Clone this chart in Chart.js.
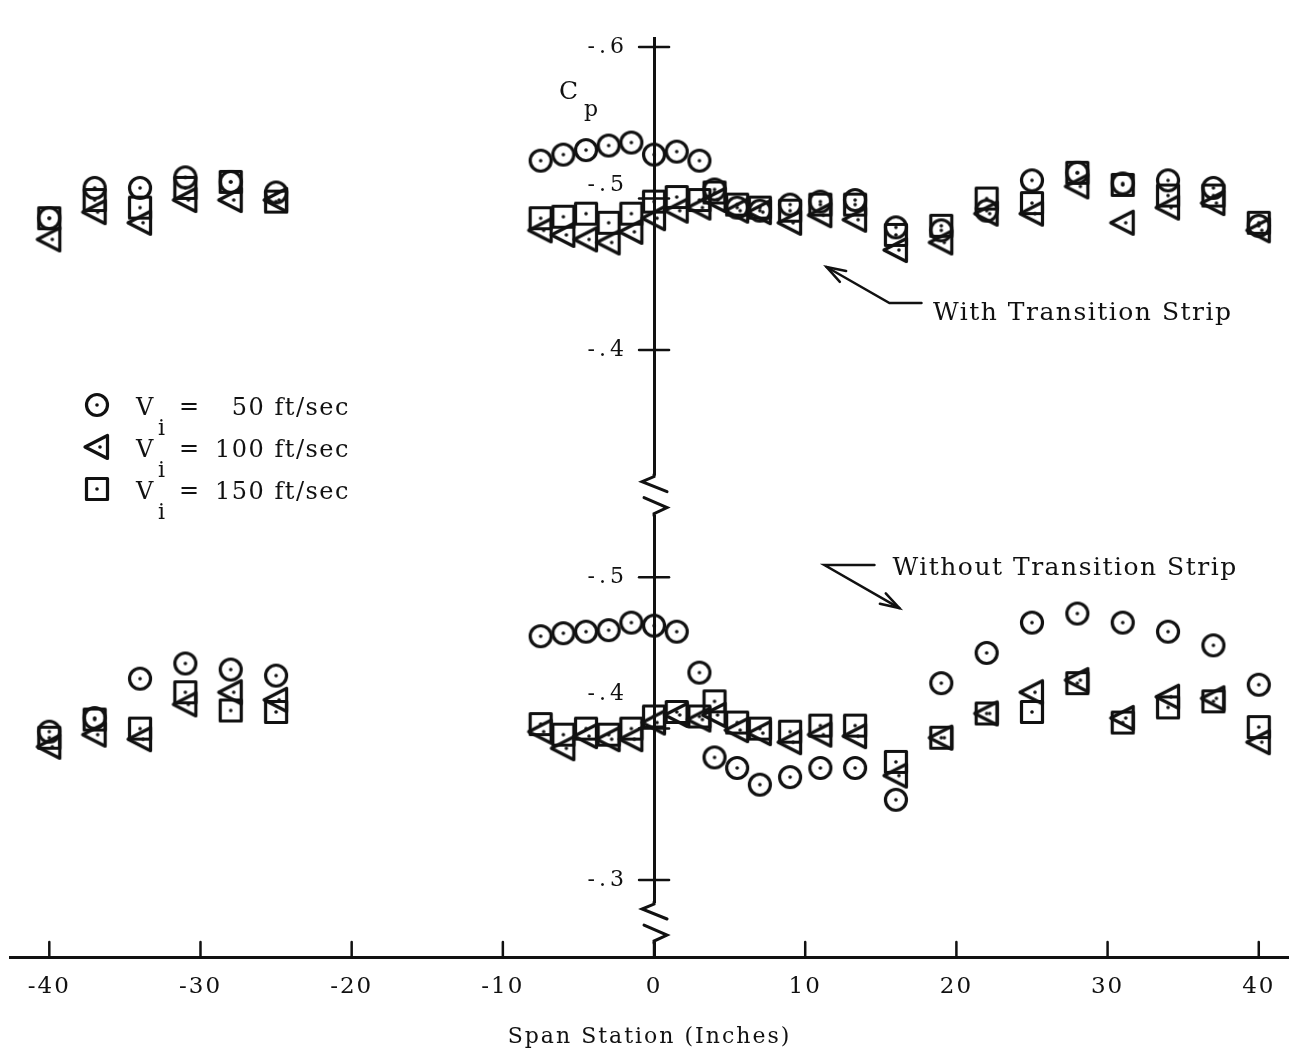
<!DOCTYPE html>
<html>
<head>
<meta charset="utf-8">
<script src="https://cdn.jsdelivr.net/npm/chart.js@4.4.1/dist/chart.umd.min.js"></script>
<style>
  html, body { margin: 0; padding: 0; background: #fff; }
  #wrap { width: 1289px; height: 1055px; }
</style>
</head>
<body>
<div id="wrap"><canvas id="cpChart" width="1289" height="1055"></canvas></div>
<script>
// span stations (inches)
const stations = [-40, -37, -34, -31, -28, -25,
  -7.5, -6, -4.5, -3, -1.5, 0, 1.5, 3, 4, 5.5, 7, 9, 11, 13.3,
  16, 19, 22, 25, 28, 31, 34, 37, 40];

// Cp with transition strip (upper plot)
const withStrip50 = [-0.487, -0.507, -0.507, -0.514, -0.511, -0.504,
  -0.525, -0.529, -0.532, -0.535, -0.537, -0.529, -0.531, -0.525, -0.506, -0.494, -0.492, -0.496, -0.498, -0.499,
  -0.481, -0.479, -0.492, -0.512, -0.517, -0.510, -0.512, -0.507, -0.482];
const withStrip100 = [-0.473, -0.491, -0.484, -0.499, -0.499, -0.499,
  -0.479, -0.476, -0.473, -0.471, -0.478, -0.487, -0.492, -0.494, -0.499, -0.492, -0.491, -0.484, -0.489, -0.486,
  -0.466, -0.471, -0.490, -0.490, -0.508, -0.484, -0.494, -0.497, -0.479];
const withStrip150 = [-0.487, -0.499, -0.494, -0.507, -0.511, -0.498,
  -0.487, -0.488, -0.490, -0.484, -0.490, -0.498, -0.501, -0.499, -0.504, -0.496, -0.494, -0.492, -0.496, -0.496,
  -0.476, -0.482, -0.500, -0.497, -0.517, -0.509, -0.502, -0.502, -0.484];

// Cp without transition strip (lower plot)
const withoutStrip50 = [-0.398, -0.407, -0.433, -0.443, -0.439, -0.435,
  -0.461, -0.463, -0.464, -0.465, -0.470, -0.468, -0.464, -0.437, -0.381, -0.374, -0.363, -0.368, -0.374, -0.374,
  -0.353, -0.430, -0.450, -0.470, -0.476, -0.470, -0.464, -0.455, -0.429];
const withoutStrip100 = [-0.388, -0.396, -0.393, -0.416, -0.424, -0.419,
  -0.398, -0.387, -0.395, -0.393, -0.393, -0.404, -0.409, -0.406, -0.409, -0.399, -0.397, -0.391, -0.396, -0.395,
  -0.369, -0.394, -0.410, -0.424, -0.432, -0.407, -0.421, -0.420, -0.391];
const withoutStrip150 = [-0.394, -0.406, -0.400, -0.424, -0.412, -0.411,
  -0.403, -0.396, -0.400, -0.396, -0.400, -0.408, -0.411, -0.408, -0.418, -0.404, -0.400, -0.398, -0.402, -0.402,
  -0.378, -0.394, -0.410, -0.411, -0.430, -0.404, -0.414, -0.418, -0.401];

// axis ticks
const xTicks = [-40, -30, -20, -10, 0, 10, 20, 30, 40];
const upperTicks = [-0.6, -0.5, -0.4];
const lowerTicks = [-0.5, -0.4, -0.3];
const upperTickLabels = ['-.6', '-.5', '-.4'];
const lowerTickLabels = ['-.5', '-.4', '-.3'];
const legendLabels = ['50 ft/sec', '100 ft/sec', '150 ft/sec'];

// the upper plot sits on the same axis, shifted up past the break
const UPPER_SHIFT = -0.25;
const yTickValues = upperTicks.map(v => v + UPPER_SHIFT).concat(lowerTicks);
const yTickLabels = upperTickLabels.concat(lowerTickLabels);
const yLabelLift = [0, 13, 0, 0, 34, 0]; // labels moved off the markers
const breakValues = [-0.5545, -0.2723];

const SERIF = '"DejaVu Serif", "Liberation Serif", serif';
const INK = '#111';

function makeMarker(kind) {
  const s = 32;
  const c = document.createElement('canvas');
  c.width = s; c.height = s;
  const g = c.getContext('2d');
  g.strokeStyle = INK; g.lineWidth = 3.2; g.lineJoin = 'round';
  g.beginPath();
  if (kind === 'circle') g.arc(16, 16, 10.5, 0, Math.PI * 2);
  else if (kind === 'square') g.rect(5.5, 5.5, 21, 21);
  else { g.moveTo(4, 16); g.lineTo(26.5, 4.5); g.lineTo(26.5, 27.5); g.closePath(); }
  g.stroke();
  g.fillStyle = INK;
  g.beginPath();
  g.arc(kind === 'triangle' ? 19 : 16, 16, 1.8, 0, Math.PI * 2);
  g.fill();
  return c;
}
const markers = [makeMarker('circle'), makeMarker('triangle'), makeMarker('square')];

function series(values, shift) {
  return stations.map((s, i) => ({ x: s, y: values[i] + shift }));
}
function ds(label, values, shift, marker) {
  return {
    label: label,
    data: series(values, shift),
    pointStyle: marker,
    pointRadius: 11,
    pointHoverRadius: 11,
    showLine: false
  };
}

const datasets = [
  ds('With strip, Vi = 50 ft/sec', withStrip50, UPPER_SHIFT, markers[0]),
  ds('With strip, Vi = 100 ft/sec', withStrip100, UPPER_SHIFT, markers[1]),
  ds('With strip, Vi = 150 ft/sec', withStrip150, UPPER_SHIFT, markers[2]),
  ds('Without strip, Vi = 50 ft/sec', withoutStrip50, 0, markers[0]),
  ds('Without strip, Vi = 100 ft/sec', withoutStrip100, 0, markers[1]),
  ds('Without strip, Vi = 150 ft/sec', withoutStrip150, 0, markers[2])
];

function line(ctx, pts) {
  ctx.beginPath();
  ctx.moveTo(pts[0][0], pts[0][1]);
  for (let i = 1; i < pts.length; i++) ctx.lineTo(pts[i][0], pts[i][1]);
  ctx.stroke();
}
function arrowHead(ctx, from, tip, len, spread) {
  const a = Math.atan2(tip[1] - from[1], tip[0] - from[0]);
  line(ctx, [[tip[0] - len * Math.cos(a - spread), tip[1] - len * Math.sin(a - spread)], tip,
             [tip[0] - len * Math.cos(a + spread), tip[1] - len * Math.sin(a + spread)]]);
}

const decor = {
  id: 'decor',
  beforeDraw(chart) {
    // typewriter-like spacing for the axis numbers and title
    chart.ctx.letterSpacing = '2px';
  },
  afterDraw(chart) {
    const ctx = chart.ctx;
    const xs = chart.scales.x, ys = chart.scales.y;
    const area = chart.chartArea;
    const x0 = xs.getPixelForValue(0);
    const P = (x, v) => [xs.getPixelForValue(x), ys.getPixelForValue(v)];
    ctx.save();
    ctx.strokeStyle = INK; ctx.fillStyle = INK;
    ctx.lineCap = 'round';

    // x tick marks point up from the axis
    ctx.lineWidth = 2.5;
    xs.ticks.forEach(t => {
      const px = xs.getPixelForValue(t.value);
      line(ctx, [[px, area.bottom], [px, area.bottom - 15]]);
    });

    // y ticks cross the axis, labels to the left
    ctx.font = '22px ' + SERIF;
    ctx.textAlign = 'right'; ctx.textBaseline = 'middle';
    ctx.letterSpacing = '4px';
    ys.ticks.forEach((t, i) => {
      const py = ys.getPixelForValue(t.value);
      line(ctx, [[x0 - 15, py], [x0 + 15, py]]);
      ctx.fillText(yTickLabels[i], x0 - 26, py - yLabelLift[i]);
    });
    ctx.letterSpacing = '0px';

    // axis breaks
    breakValues.forEach(v => {
      const yc = ys.getPixelForValue(v);
      ctx.fillStyle = '#fff';
      ctx.fillRect(x0 - 5, yc - 19, 10, 39);
      ctx.fillStyle = INK;
      ctx.lineWidth = 3;
      line(ctx, [[x0, yc - 20], [x0, yc - 18], [x0 - 12, yc - 13], [x0 + 13, yc - 3]]);
      line(ctx, [[x0 - 10, yc + 3], [x0 + 13, yc + 13], [x0, yc + 19], [x0, yc + 21]]);
    });

    // Cp label
    ctx.textAlign = 'left'; ctx.textBaseline = 'alphabetic';
    ctx.font = '25px ' + SERIF;
    const top = ys.getPixelForValue(upperTicks[0] + UPPER_SHIFT);
    ctx.fillText('C', x0 - 95, top + 52);
    ctx.font = '22px ' + SERIF;
    ctx.fillText('p', x0 - 70, top + 69);

    // legend
    const lx = area.left + 87;
    [405, 447, 489].forEach((ry, i) => {
      ctx.drawImage(markers[i], lx - 16, ry - 16);
      ctx.font = '24px ' + SERIF;
      ctx.textAlign = 'left';
      ctx.fillText('V', lx + 39, ry + 10);
      ctx.font = '22px ' + SERIF;
      ctx.fillText('i', lx + 61, ry + 30);
      ctx.font = '24px ' + SERIF;
      ctx.fillText('=', lx + 82, ry + 9);
      ctx.textAlign = 'right';
      ctx.letterSpacing = '1.5px';
      ctx.fillText(legendLabels[i], lx + 253, ry + 10);
      ctx.letterSpacing = '0px';
    });

    // annotations
    ctx.lineWidth = 2.5;
    ctx.textAlign = 'left';
    ctx.font = '25px ' + SERIF;
    ctx.letterSpacing = '1.5px';
    let p = P(18.45, -0.6698);
    ctx.fillText('With Transition Strip', p[0], p[1]);
    p = P(15.77, -0.5014);
    ctx.fillText('Without Transition Strip', p[0], p[1]);
    ctx.letterSpacing = '0px';

    const tipA = P(11.41, -0.7048), elbowA = P(15.57, -0.681), endA = P(17.69, -0.681);
    line(ctx, [endA, elbowA, tipA]);
    arrowHead(ctx, elbowA, tipA, 20, 0.32);

    const endB = P(14.58, -0.508), elbowB = P(11.27, -0.508), tipB = P(16.23, -0.4796);
    line(ctx, [endB, elbowB, tipB]);
    arrowHead(ctx, elbowB, tipB, 20, 0.3);
    ctx.restore();
  }
};

new Chart(document.getElementById('cpChart'), {
  type: 'scatter',
  data: { datasets: datasets },
  options: {
    responsive: false,
    animation: false,
    devicePixelRatio: 1,
    layout: { autoPadding: false, padding: { left: 10, right: 0, top: 38, bottom: 1 } },
    plugins: { legend: { display: false }, tooltip: { enabled: false } },
    scales: {
      x: {
        type: 'linear',
        min: -42.6,
        max: 42,
        afterBuildTicks: s => { s.ticks = xTicks.map(v => ({ value: v })); },
        afterFit: s => { s.paddingLeft = 0; s.paddingRight = 0; },
        grid: { drawOnChartArea: false, drawTicks: false },
        border: { display: true, color: INK, width: 3 },
        ticks: {
          color: INK,
          padding: 16,
          maxRotation: 0,
          font: { family: SERIF, size: 23 },
          callback: v => String(v)
        },
        title: {
          display: true,
          text: 'Span Station (Inches)',
          color: INK,
          font: { family: SERIF, size: 22 },
          padding: { top: 7, bottom: 4 }
        }
      },
      y: {
        type: 'linear',
        position: { x: 0 },
        reverse: true,
        min: -0.856,
        max: -0.2492,
        afterBuildTicks: s => { s.ticks = yTickValues.map(v => ({ value: v })); },
        grid: { drawOnChartArea: false, drawTicks: false },
        border: { display: true, color: INK, width: 3 },
        ticks: { display: false }
      }
    }
  },
  plugins: [decor]
});
</script>
</body>
</html>
